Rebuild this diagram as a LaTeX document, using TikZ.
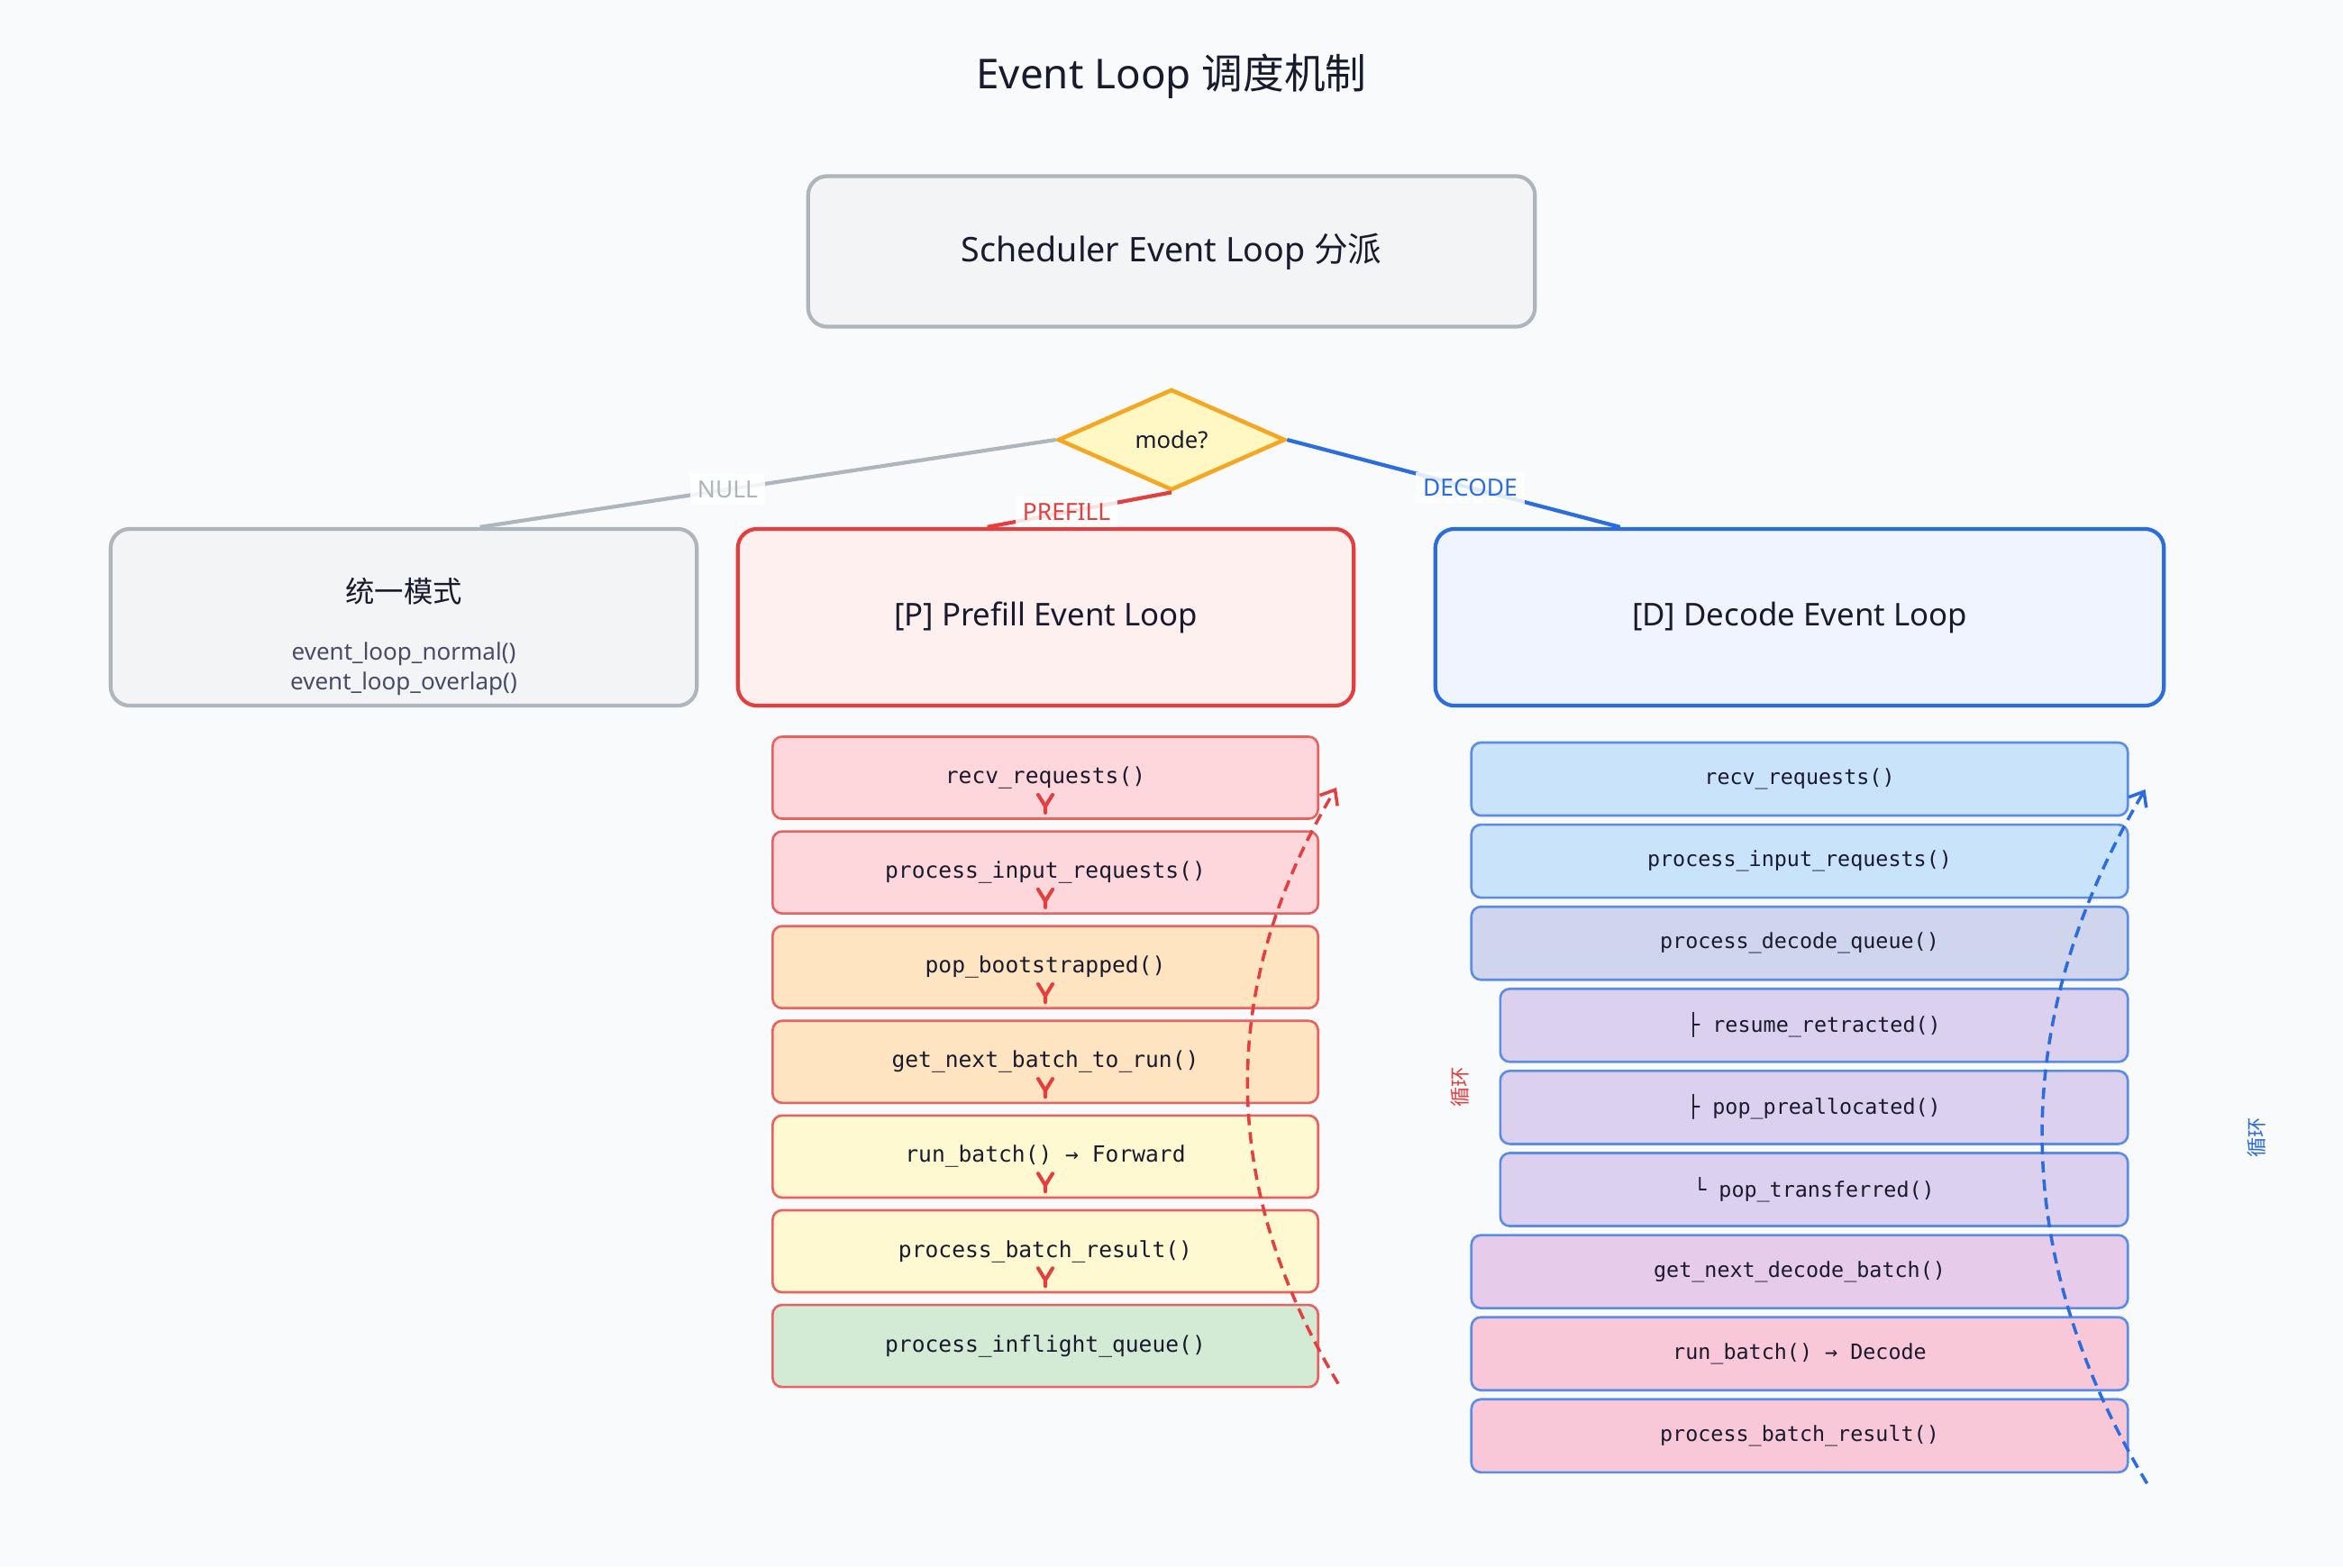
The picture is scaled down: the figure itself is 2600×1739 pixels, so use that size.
\documentclass[tikz,border=0pt]{standalone}
\usepackage{fontspec}
\setmainfont{Noto Sans}
\setmonofont{DejaVu Sans Mono}
\newfontfamily\cjk{Noto Sans CJK SC}
\usetikzlibrary{shapes.geometric, arrows.meta, positioning, calc}

\definecolor{bgpaper}{HTML}{F8FAFC}
\definecolor{inkdark}{HTML}{1A1A2E}
\definecolor{nullgray}{HTML}{ADB5BD}
\definecolor{nullfill}{HTML}{F3F4F6}
\definecolor{fngray}{HTML}{4A4A68}
\definecolor{prered}{HTML}{E53E3E}
\definecolor{prefillbg}{HTML}{FFF0F0}
\definecolor{decblue}{HTML}{2B6CDE}
\definecolor{decodebg}{HTML}{EFF4FE}
\definecolor{modeorange}{HTML}{F5A623}
\definecolor{modefill}{HTML}{FFF8C4}
\definecolor{pstborder}{HTML}{E86262}
\definecolor{pstpink}{HTML}{FED7DC}
\definecolor{pstorange}{HTML}{FEE4C0}
\definecolor{pstyellow}{HTML}{FEF9D0}
\definecolor{pstgreen}{HTML}{D3EAD4}
\definecolor{dstborder}{HTML}{5B8DE8}
\definecolor{dstblue}{HTML}{C9E3FA}
\definecolor{dstslate}{HTML}{D0D5EE}
\definecolor{dstlav}{HTML}{DBD0EE}
\definecolor{dstorchid}{HTML}{E6CBEA}
\definecolor{dstpink}{HTML}{F8C8D8}

\newcommand{\pstepfont}{\fontsize{7}{8}\selectfont\ttfamily}
\newcommand{\dstepfont}{\fontsize{6.65}{8}\selectfont\ttfamily}

\begin{document}
\begin{tikzpicture}[x=0.01cm, y=-0.01cm,
  mainbox/.style={rectangle, rounded corners=6pt, line width=1.2pt, minimum height=1.96cm,
    inner sep=0pt, text=inkdark, font=\fontsize{9.9}{12}\selectfont},
  stepbox/.style={rectangle, rounded corners=3pt, line width=0.75pt, inner sep=0pt, text=inkdark},
  edgeline/.style={line width=1.2pt},
  edgelabel/.style={fill=white, fill opacity=0.85, text opacity=1, inner sep=2.2pt,
    font=\fontsize{7.5}{9}\selectfont},
  ytip/.style={prered, line width=1.15pt, line cap=round, line join=round},
  loopline/.style={line width=1pt, dash pattern=on 3.6pt off 2.2pt,
    -{Straight Barb[length=4pt, width=6.5pt]}},
  looplabel/.style={rotate=90, font=\fontsize{6.3}{7}\selectfont\cjk}]

  \fill[bgpaper] (0,0) rectangle (2600,1739);
  \useasboundingbox (0,0) rectangle (2600,1739);

  % Title
  \node[text=inkdark, font=\fontsize{13}{16}\selectfont] (title) at (1300,85) {Event Loop {\cjk 调度机制}};

  % Dispatch
  \node[mainbox, draw=nullgray, fill=nullfill, minimum width=8.06cm, minimum height=1.67cm,
    font=\fontsize{10.7}{13}\selectfont] (sched) at (1300,279) {Scheduler Event Loop {\cjk 分派}};
  \node[diamond, draw=modeorange, fill=modefill, line width=1.3pt, minimum width=2.52cm,
    minimum height=1.12cm, inner sep=0pt, text=inkdark, font=\fontsize{7.3}{9}\selectfont] (mode) at (1300,488) {mode?};

  % Three loops
  \node[mainbox, draw=nullgray, fill=nullfill, minimum width=6.5cm] (unified) at (448,685) {};
  \node[text=inkdark, font=\fontsize{9.2}{11}\selectfont\cjk] (unifiedtitle) at (448,656) {统一模式};
  \node[text=fngray, align=center, font=\fontsize{7.4}{9.4}\selectfont] (unifiedfn) at (448,742)
    {event\_loop\_normal()\\event\_loop\_overlap()};
  \node[mainbox, draw=prered, fill=prefillbg, minimum width=6.83cm] (prefill) at (1160.5,685) {[P] Prefill Event Loop};
  \node[mainbox, draw=decblue, fill=decodebg, minimum width=8.08cm] (decode) at (1997,685) {[D] Decode Event Loop};

  % Branches
  \draw[edgeline, nullgray] (mode.west) -- ($(unified.north west)+(412,0)$)
    node[edgelabel, text=nullgray, pos=0.57] (nulllbl) {NULL};
  \draw[edgeline, prered] (mode.south) -- ($(prefill.north west)+(279,0)$)
    node[edgelabel, text=prered, pos=0.57] (prelbl) {PREFILL};
  \draw[edgeline, decblue] (mode.east) -- ($(decode.north west)+(207,0)$)
    node[edgelabel, text=decblue, pos=0.55] (declbl) {DECODE};

  % Prefill steps
  \foreach \lbl/\fc [count=\i] in {recv\_requests()/pstpink, process\_input\_requests()/pstpink,
      pop\_bootstrapped()/pstorange, get\_next\_batch\_to\_run()/pstorange,
      run\_batch() → Forward/pstyellow, process\_batch\_result()/pstyellow,
      process\_inflight\_queue()/pstgreen}
    \node[stepbox, draw=pstborder, fill=\fc, minimum width=6.05cm, minimum height=0.91cm,
      font=\pstepfont] (p\i) at (1160,{863+105.1*(\i-1)}) {\lbl};

  \foreach \i in {1,...,6}
    \draw[ytip] ($(p\i.south)+(-8,-28)$) -- ($(p\i.south)+(0,-15)$) -- ($(p\i.south)+(8,-28)$)
      ($(p\i.south)+(0,-15)$) -- ($(p\i.south)+(0,-8)$);

  % Decode steps
  \foreach \lbl/\fc/\ind [count=\i] in {recv\_requests()/dstblue/0, process\_input\_requests()/dstblue/0,
      process\_decode\_queue()/dstslate/0, ├ resume\_retracted()/dstlav/1,
      ├ pop\_preallocated()/dstlav/1, └ pop\_transferred()/dstlav/1,
      get\_next\_decode\_batch()/dstorchid/0, run\_batch() → Decode/dstpink/0,
      process\_batch\_result()/dstpink/0} {
    \pgfmathsetmacro{\cx}{1997+16*\ind}
    \pgfmathsetmacro{\w}{7.28-0.32*\ind}
    \node[stepbox, draw=dstborder, fill=\fc, minimum width=\w cm, minimum height=0.81cm,
      font=\dstepfont] (d\i) at (\cx,{864.5+91.1*(\i-1)}) {\lbl};
  }

  % Loop-back arrows
  \coordinate (preloopA) at ($(p7.south east)+(21,-5)$);
  \coordinate (preloopB) at ($(p1.east)+(19,11)$);
  \draw[loopline, prered] (preloopA) .. controls (1352,1314) and (1351,1094) .. (preloopB);
  \coordinate (decloopA) at ($(d9.south east)+(20,11)$);
  \coordinate (decloopB) at ($(d1.east)+(18,11.5)$);
  \draw[loopline, decblue] (decloopA) .. controls (2228,1389) and (2228,1132) .. (decloopB);

  \node[looplabel, text=prered] (preloop) at (1620,1206) {循环};
  \node[looplabel, text=decblue] (decloop) at (2504,1262) {循环};
\end{tikzpicture}
\end{document}
